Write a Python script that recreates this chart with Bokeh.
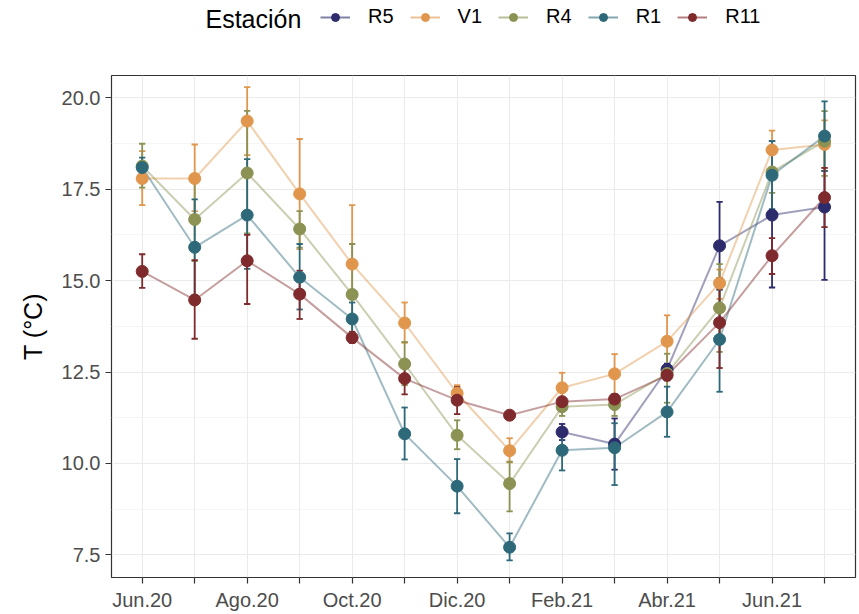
import math
from bokeh.plotting import figure
from bokeh.layouts import column
from bokeh.models import (ColumnDataSource, FixedTicker, Legend, LegendItem, Label,
                          Range1d, PrintfTickFormatter)
from bokeh.embed import file_html
from bokeh.resources import INLINE

NaN = float("nan")

months = ["Jun.20", "Jul.20", "Ago.20", "Sep.20", "Oct.20", "Nov.20", "Dic.20",
          "Ene.21", "Feb.21", "Mar.21", "Abr.21", "May.21", "Jun.21", "Jul.21"]

stations = ["R5", "V1", "R4", "R1", "R11"]
colors = ["#2d2b6b", "#e0964c", "#8b9253", "#2e697a", "#7f2a2c"]

# mean temperature and error bar limits per station
r5_mean = [NaN] * 8 + [10.86, 10.53, 12.57, 15.95, 16.79, 17.01]
r5_lo = [NaN] * 8 + [10.64, 9.83, 12.41, 14.75, 14.81, 15.02]
r5_hi = [NaN] * 8 + [11.08, 11.23, 12.73, 17.15, 18.81, 18.00]

v1_mean = [17.79, 17.79, 19.36, 17.37, 15.45, 13.84, 11.92, 10.35, 12.07, 12.45, 13.34, 14.93, 18.57, 18.72]
v1_lo = [17.06, 16.90, 18.43, 15.86, 14.60, 13.30, 11.70, 10.03, 11.70, 11.90, 12.65, 14.50, 18.05, 18.08]
v1_hi = [18.54, 18.72, 20.29, 18.87, 17.06, 14.40, 12.14, 10.69, 12.48, 12.99, 14.05, 15.30, 19.10, 19.38]

r4_mean = [18.13, 16.67, 17.94, 16.41, 14.62, 12.72, 10.77, 9.45, 11.55, 11.61, 12.46, 14.25, 17.97, 18.81]
r4_lo = [17.54, 15.53, 16.29, 15.90, 13.30, 12.14, 10.39, 8.69, 11.30, 11.30, 11.66, 13.05, 17.40, 17.86]
r4_hi = [18.74, 17.80, 19.64, 16.90, 16.00, 13.32, 11.18, 10.05, 11.80, 11.90, 13.00, 15.45, 18.50, 19.63]

r1_mean = [18.09, 15.91, 16.79, 15.09, 13.95, 10.81, 9.38, 7.71, 10.36, 10.43, 11.41, 13.39, 17.88, 18.95]
r1_lo = [17.80, 14.60, 15.32, 14.21, 13.50, 10.11, 8.64, 7.35, 9.81, 9.41, 10.73, 11.96, 16.95, 18.00]
r1_hi = [18.36, 17.22, 18.32, 16.00, 14.40, 11.53, 10.12, 8.09, 10.90, 11.10, 12.10, 14.80, 18.81, 19.90]

r11_mean = [15.25, 14.47, 15.54, 14.63, 13.44, 12.32, 11.73, 11.32, 11.69, 11.76, 12.41, 13.85, 15.68, 17.27]
r11_lo = [14.80, 13.41, 14.36, 13.95, 13.30, 11.89, 11.35, 11.28, 11.58, 11.67, 12.27, 12.61, 15.18, 16.46]
r11_hi = [15.72, 15.56, 16.25, 15.27, 13.60, 12.75, 12.09, 11.36, 11.80, 11.85, 12.55, 15.07, 16.16, 18.08]

y_ticks = [7.5, 10.0, 12.5, 15.0, 17.5, 20.0]
y_minor = [8.75, 11.25, 13.75, 16.25, 18.75]

means = [r5_mean, v1_mean, r4_mean, r1_mean, r11_mean]
lows = [r5_lo, v1_lo, r4_lo, r1_lo, r11_lo]
highs = [r5_hi, v1_hi, r4_hi, r1_hi, r11_hi]

FONT = "Liberation Sans"
LINE_W, LINE_A, PT_SIZE = 2, 0.45, 12

p = figure(width=859, height=539, output_backend="svg", toolbar_location=None,
           x_range=Range1d(-0.585, 13.59), y_range=Range1d(6.883, 20.606),
           min_border_left=111, min_border_right=4, min_border_top=1,
           min_border_bottom=34, background_fill_color="white",
           border_fill_color="white")

xs = list(range(len(months)))
cap = 0.06

err_srcs = []
for name, col, m, lo, hi in zip(stations, colors, means, lows, highs):
    src_line = ColumnDataSource(dict(x=xs, y=m))
    keep = [i for i in xs if not math.isnan(m[i])]
    src = ColumnDataSource(dict(
        x=[xs[i] for i in keep], y=[m[i] for i in keep],
        lo=[lo[i] for i in keep], hi=[hi[i] for i in keep],
        xl=[xs[i] - cap for i in keep], xr=[xs[i] + cap for i in keep]))
    p.line("x", "y", source=src_line, line_color=col, line_width=LINE_W, line_alpha=LINE_A)
    err_srcs.append((src, col))

for src, col in err_srcs:
    p.segment(x0="x", y0="lo", x1="x", y1="hi", source=src, line_color=col, line_width=1.8)
    p.segment(x0="xl", y0="lo", x1="xr", y1="lo", source=src, line_color=col, line_width=1.8)
    p.segment(x0="xl", y0="hi", x1="xr", y1="hi", source=src, line_color=col, line_width=1.8)

for src, col in err_srcs:
    p.scatter("x", "y", source=src, size=PT_SIZE, fill_color=col, line_color=col, line_width=1)

# axes
p.xaxis.ticker = FixedTicker(ticks=xs)
p.xaxis.major_label_overrides = {i: (months[i] if i % 2 == 0 else "") for i in xs}
p.yaxis.ticker = FixedTicker(ticks=y_ticks, minor_ticks=y_minor)
p.yaxis.formatter = PrintfTickFormatter(format="%.1f")
p.yaxis.axis_label = "T (°C)"

for ax in [p.xaxis[0], p.yaxis[0]]:
    ax.axis_line_color = None
    ax.major_tick_line_color = "#333333"
    ax.major_tick_line_width = 1.2
    ax.major_tick_out = 6
    ax.major_tick_in = 0
    ax.minor_tick_line_color = None
    ax.major_label_text_font = FONT
    ax.major_label_text_font_size = "20px"
    ax.major_label_text_color = "#4d4d4d"
    ax.major_label_standoff = 5
    ax.axis_label_text_font = FONT
    ax.axis_label_text_font_size = "25px"
    ax.axis_label_text_font_style = "normal"
    ax.axis_label_text_color = "black"
    ax.axis_label_standoff = 12

p.xgrid.grid_line_color = "#ebebeb"
p.xgrid.grid_line_width = 1.1
p.ygrid.grid_line_color = "#ebebeb"
p.ygrid.grid_line_width = 1.1
p.ygrid.minor_grid_line_color = "#f0f0f0"
p.ygrid.minor_grid_line_width = 0.7

p.outline_line_color = "#333333"
p.outline_line_width = 1.2

# legend strip on top (its frame is aligned with the main frame by the column layout)
top = figure(width=859, height=74, output_backend="svg", toolbar_location=None,
             x_range=Range1d(0, 1), y_range=Range1d(0, 1),
             x_axis_type=None, y_axis_type=None, min_border=0,
             outline_line_color=None, background_fill_color="white",
             border_fill_color="white")
top.grid.visible = False

items = []
for name, col in zip(stations, colors):
    lr = top.line(x=[NaN], y=[NaN], line_color=col, line_width=LINE_W, line_alpha=0.6)
    pr = top.scatter(x=[NaN], y=[NaN], size=10, fill_color=col, line_color=col,
                     line_width=1)
    items.append(LegendItem(label=name, renderers=[lr, pr]))

legend = Legend(items=items, orientation="horizontal", location=(209, 46),
                padding=0, margin=0, spacing=16, glyph_width=30, glyph_height=20,
                label_height=20, label_standoff=18, label_text_font=FONT,
                label_text_font_size="20px", label_text_color="black",
                border_line_color=None, background_fill_alpha=0)
top.add_layout(legend)

title_lbl = Label(x=94, y=56, x_units="screen", y_units="screen", text="Estación",
                  text_font=FONT, text_font_size="25px", text_baseline="middle",
                  text_color="black")
top.add_layout(title_lbl)

layout = column(top, p, spacing=0)

html = file_html(layout, INLINE)
html = html.replace("<head>", "<head><style>html,body{overflow:hidden;}</style>", 1)
open("out.html", "w").write(html)
